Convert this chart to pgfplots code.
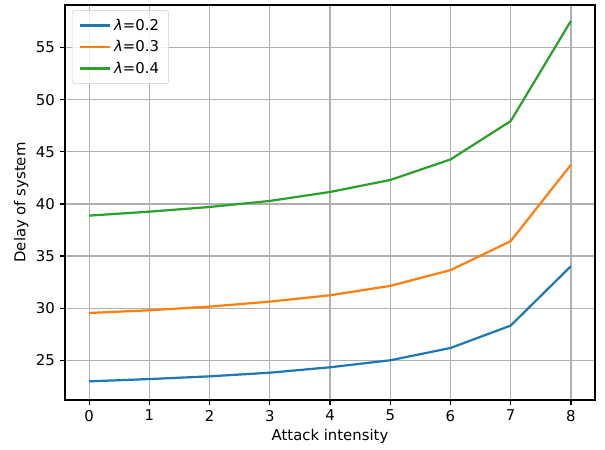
\documentclass[border=0pt]{standalone}
\usepackage{fontspec}
\setmainfont{DejaVu Sans}
\usepackage{pgfplots}
\pgfplotsset{compat=1.18}
\definecolor{tabblue}{HTML}{1F77B4}
\definecolor{taborange}{HTML}{FF7F0E}
\definecolor{tabgreen}{HTML}{2CA02C}
\begin{document}
\begin{tikzpicture}
\begin{axis}[
  name=ax,
  scale only axis,
  width=381.6pt, height=284.4pt,
  xmin=-0.4, xmax=8.4,
  ymin=21.19, ymax=59.09,
  xtick={0,1,...,8},
  ytick={25,30,35,40,45,50,55},
  grid=major,
  major grid style={color=black!31, line width=0.85pt},
  axis line style={line width=0.85pt},
  tick style={black, line width=0.85pt},
  tick align=outside,
  major tick length=3.75pt,
  xtick pos=bottom, ytick pos=left,
  /pgf/number format/assume math mode=true,
  tick label style={font=\fontsize{10.7}{12.8}\selectfont},
  label style={font=\fontsize{10.7}{12.8}\selectfont},
  xlabel={Attack intensity},
  ylabel={Delay of system},
  xlabel style={yshift=1pt},
  ylabel style={yshift=-1.5pt},
  every axis plot/.append style={line width=1.6pt},
  legend cell align=left,
  legend style={at={(0.013,0.987)}, anchor=north west,
    draw=black!20, rounded corners=2pt, fill=white, fill opacity=0.8, text opacity=1,
    font=\fontsize{10.7}{12.8}\selectfont, row sep=1.9pt, inner xsep=5pt, inner ysep=4pt},
  legend image code/.code={\draw[#1, line width=1.6pt] (0pt,0pt) -- (21.6pt,0pt);},
]
\addplot[tabblue] coordinates {(0,22.98) (1,23.20) (2,23.46) (3,23.81) (4,24.33) (5,25.00) (6,26.18) (7,28.33) (8,34.03)};
\addlegendentry{\textit{λ}=0.2}
\addplot[taborange] coordinates {(0,29.54) (1,29.80) (2,30.15) (3,30.63) (4,31.24) (5,32.14) (6,33.65) (7,36.43) (8,43.76)};
\addlegendentry{\textit{λ}=0.3}
\addplot[tabgreen] coordinates {(0,38.88) (1,39.26) (2,39.71) (3,40.29) (4,41.15) (5,42.30) (6,44.27) (7,47.95) (8,57.56)};
\addlegendentry{\textit{λ}=0.4}
\end{axis}
\pgfresetboundingbox
\path[use as bounding box] ([shift={(-46.8pt,-35.28pt)}]ax.south west) rectangle ([shift={(7.2pt,3.6pt)}]ax.north east);
\end{tikzpicture}
\end{document}
